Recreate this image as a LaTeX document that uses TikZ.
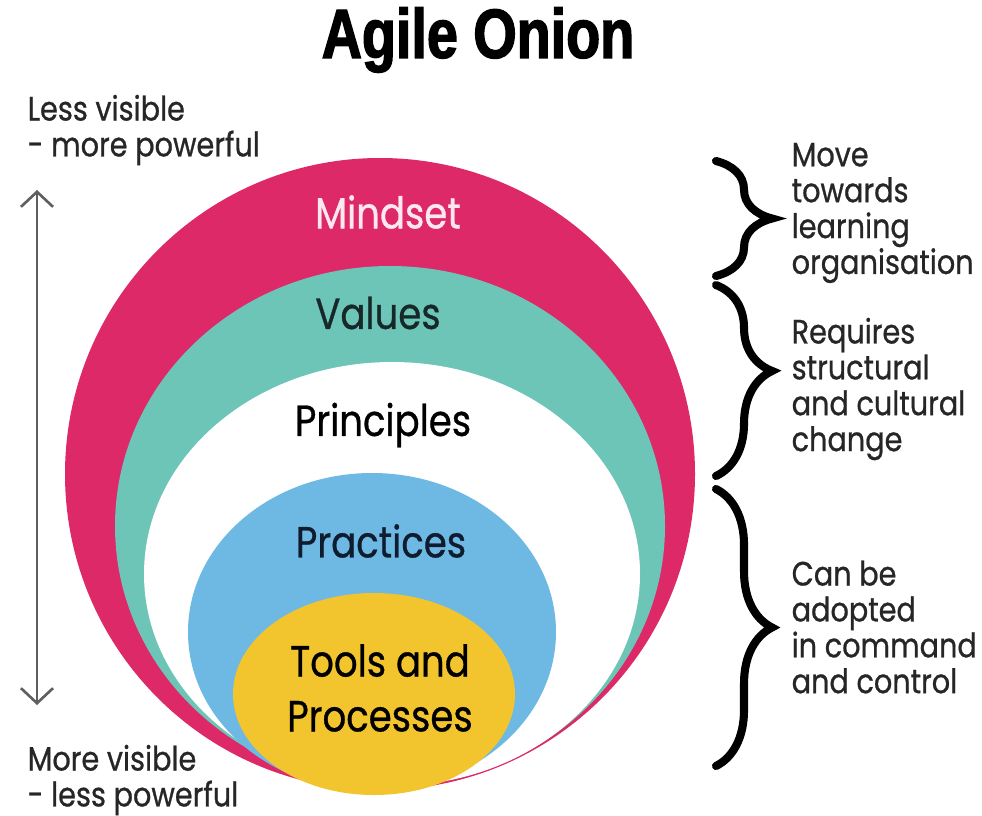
\documentclass[tikz,border=0pt]{standalone}
\usepackage{fontspec}
\setmainfont[FakeStretch=0.85,FakeBold=0.7]{Poppins}
\newfontfamily\titlefont[FakeStretch=0.8,BoldFeatures={FakeBold=2}]{Liberation Sans}
\usepackage{tikz}
\usetikzlibrary{arrows.meta,decorations.pathreplacing}

\definecolor{mindsetpink}{RGB}{221,41,103}
\definecolor{valuesteal}{RGB}{108,197,183}
\definecolor{practblue}{RGB}{110,184,228}
\definecolor{toolsyellow}{RGB}{242,196,46}
\definecolor{textgray}{RGB}{38,38,38}
\definecolor{arrowgray}{RGB}{95,95,95}

\tikzset{
    ringlabel/.style={inner sep=0pt, font=\fontsize{12.4}{15.6}\selectfont, align=center},
    sidetext/.style={inner sep=0pt, anchor=west, align=left, text=textgray,
        font=\fontsize{9.6}{10.2}\selectfont},
    bracket/.style={decorate, decoration={brace, amplitude=5.6mm, aspect=#1},
        line width=2.3pt, line cap=round},
    bracket/.default=0.5
}

\begin{document}
\begin{tikzpicture}[x=0.01cm, y=-0.01cm]
    \useasboundingbox (0,0) rectangle (982,815);

    % the layers, outside in
    \fill[mindsetpink] (380,474) ellipse [x radius=315, y radius=316];
    \fill[valuesteal] (390,526) ellipse [x radius=275, y radius=260];
    \fill[white] (392,574) ellipse [x radius=248, y radius=212];
    \fill[practblue] (372,632) ellipse [x radius=184, y radius=159];
    \fill[toolsyellow] (374,694) ellipse [x radius=141, y radius=101];

    \node[ringlabel, text={rgb,255:red,253;green,232;blue,239}] (mindset) at (388,212) {Mindset};
    \node[ringlabel, text={rgb,255:red,22;green,40;blue,40}] (values) at (378,313) {Values};
    \node[ringlabel, text=black] (principles) at (383,425) {Principles};
    \node[ringlabel, text={rgb,255:red,14;green,28;blue,46}] (practices) at (381,541) {Practices};
    \node[ringlabel, text=black] (tools) at (380,688) {Tools and\\Processes};

    \node[inner sep=0pt] (title) at (478,40)
        {\titlefont\bfseries\fontsize{19.8}{20}\selectfont Agile Onion};

    % visibility axis
    \node[sidetext] (lessvis) at (27,130) {Less visible\\- more powerful};
    \node[sidetext] (morevis) at (27,780) {More visible\\- less powerful};
    \coordinate (axistop) at (37,190);
    \coordinate (axisbot) at (37,705);
    \draw[arrowgray, line width=0.75pt,
        {Straight Barb[length=1.5mm,width=3.2mm]}-{Straight Barb[length=1.5mm,width=3.2mm]}]
        (axistop) -- (axisbot);

    % braces and notes
    \coordinate (mindtop) at (716,161);
    \coordinate (mindbot) at (716,276);
    \coordinate (valtop) at (716,285);
    \coordinate (valbot) at (716,476);
    \coordinate (practop) at (716,489);
    \coordinate (pracbot) at (716,766);
    \draw[bracket] (mindtop) -- (mindbot);
    \draw[bracket=0.45] (valtop) -- (valbot);
    \draw[bracket] (practop) -- (pracbot);

    \node[sidetext] (learning) at (791,213) {Move\\towards\\learning\\organisation};
    \node[sidetext] (structural) at (791,389) {Requires\\structural\\and cultural\\change};
    \node[sidetext] (command) at (791,627) {Can be\\adopted\\in command\\and control};
\end{tikzpicture}
\end{document}
